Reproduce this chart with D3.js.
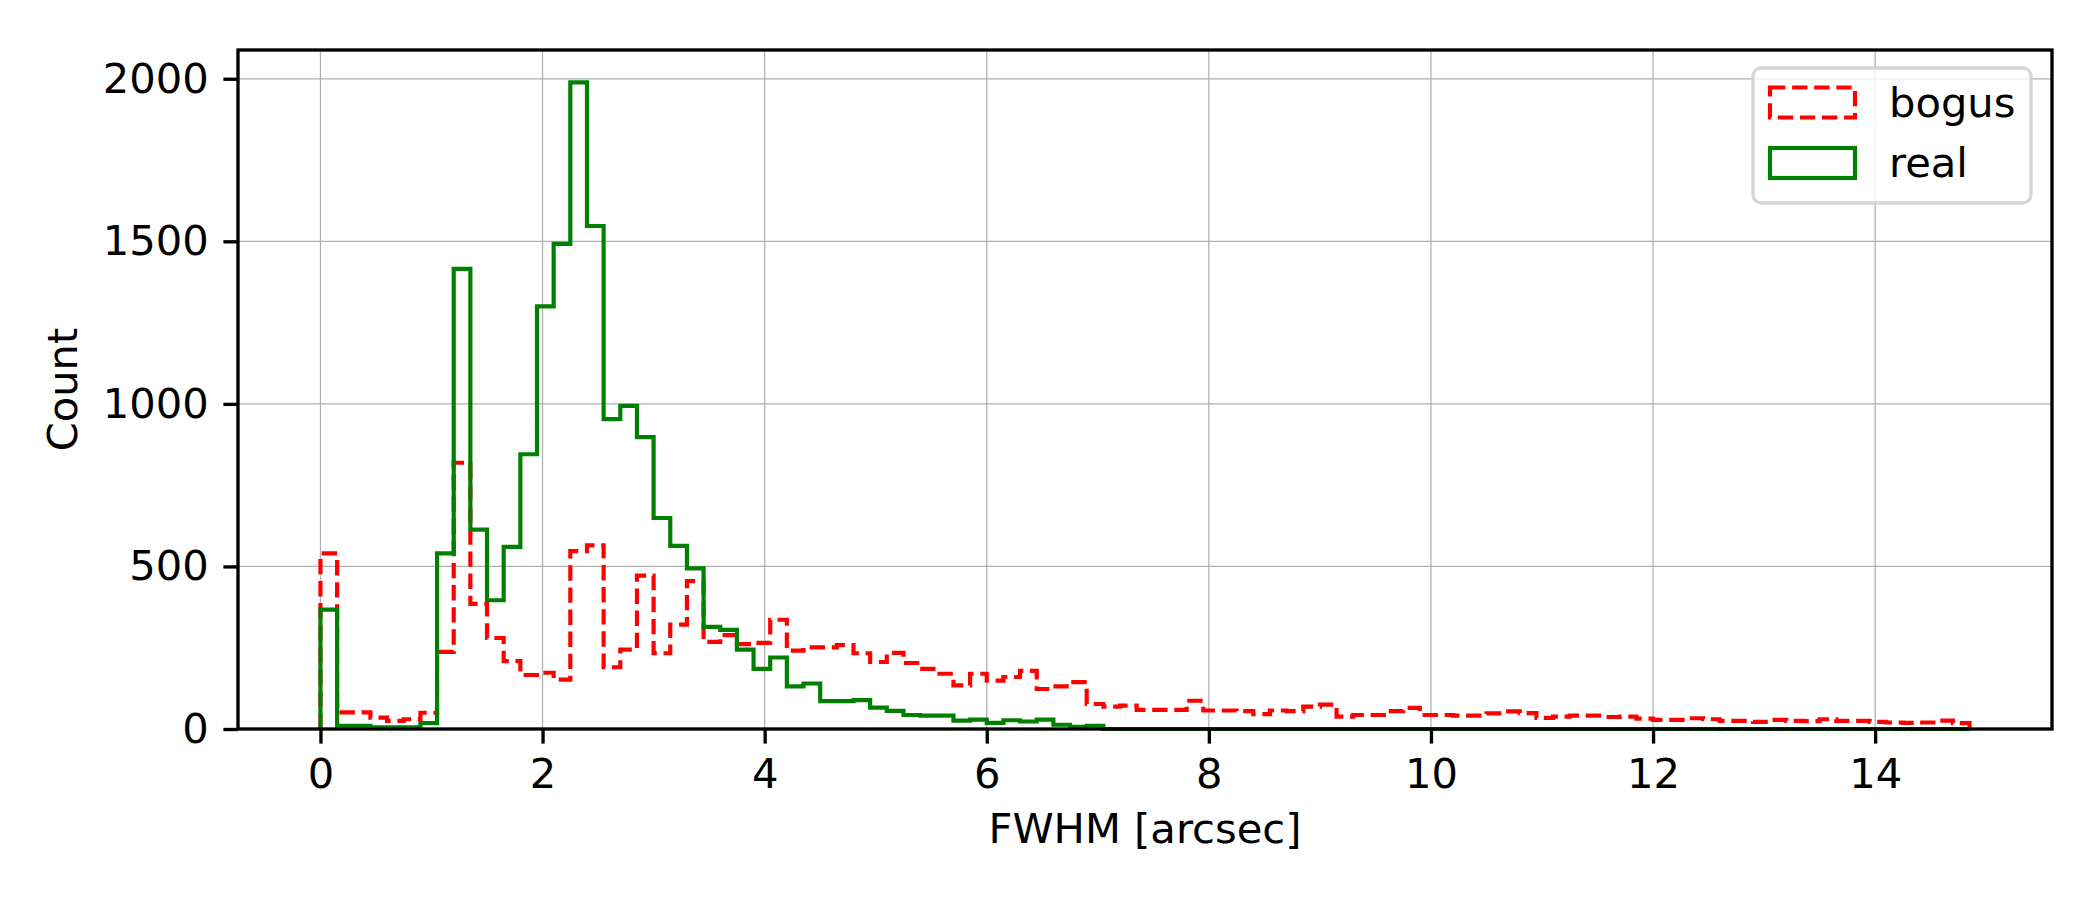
<!DOCTYPE html>
<html>
<head>
<meta charset="utf-8">
<script src="https://cdn.jsdelivr.net/npm/d3@7"></script>
<style>
    body{margin:0;background:#fff;}
    svg text{font-family:"DejaVu Sans",sans-serif;fill:#000;}
</style>
</head>
<body>
<div id="chart"></div>
<script>
//histogram bins, FWHM in arcsec
const binStart=0;
const binWidth=0.15;
const seriesNames=[`bogus`,`real`];
const bogusCounts=[
    540,51,51,35,25,30,50,237,819,385,
    280,209,166,173,152,547,565,190,244,472,
    233,321,455,268,289,261,265,336,241,251,
    251,258,233,206,234,203,185,170,134,170,
    149,160,179,123,131,144,77,69,72,59,
    59,59,87,57,57,55,46,57,55,69,
    75,38,43,43,55,65,43,43,41,41,
    48,54,49,34,38,41,41,37,38,32,
    28,28,33,30,25,25,22,28,25,24,
    30,25,25,22,20,19,20,26,18
];
const realCounts=[
    367,10,10,5,5,5,18,540,1415,613,
    396,560,845,1300,1492,1989,1547,953,994,898,
    649,563,494,314,305,244,185,220,131,140,
    86,86,89,66,56,43,41,41,26,29,
    19,27,23,29,13,7,10,0,0,0,
    0,0,0,0,0,0,0,0,0,0,
    0,0,0,0,0,0,0,0,0,0,
    0,0,0,0,0,0,0,0,0,0,
    0,0,0,0,0,0,0,0,0,0,
    0,0,0,0,0,0,0,0,0
];
const xTicks=[0,2,4,6,8,10,12,14];
const yTicks=[0,500,1000,1500,2000];
const xLabel=`FWHM [arcsec]`;
const yLabel=`Count`;

let Setting={
    width:2100,
    height:900,
    margin:{left:238,right:48,top:50,bottom:171},
    font:41.67,
    color:{bogus:`red`,real:`green`},
    dash:{bogus:`15.4,6.7`,real:null},
    lineWidth:4.17,
    spineWidth:3.33,
    tickSize:14.6,
    gridColor:`#b0b0b0`
};

let Histogram={
    //empty svg with inner group
    generateGraph(format,container){
        let svg=d3.select(container).append(`svg`)
            .attr(`width`,format.width)
            .attr(`height`,format.height);
        let graph=svg.append(`g`)
            .attr(`transform`,`translate(${format.margin.left},${format.margin.top})`);
        return graph;
    },
    //step outline like matplotlib histtype=step
    formatStepData(counts){
        let pts=[{x:binStart,y:0}];
        counts.forEach((c,i)=>pts.push({x:binStart+i*binWidth,y:c}));
        let end=binStart+counts.length*binWidth;
        pts.push({x:end,y:counts[counts.length-1]});
        pts.push({x:end,y:0});
        return pts;
    },
    generateGrid(graph,x,y,width,height){
        let grid=graph.append(`g`).attr(`class`,`grid`);
        grid.selectAll(`.gx`).data(xTicks).enter().append(`line`)
            .attr(`x1`,d=>x(d)).attr(`x2`,d=>x(d))
            .attr(`y1`,0).attr(`y2`,height)
            .attr(`stroke`,Setting.gridColor).attr(`stroke-width`,1.25);
        grid.selectAll(`.gy`).data(yTicks).enter().append(`line`)
            .attr(`x1`,0).attr(`x2`,width)
            .attr(`y1`,d=>y(d)).attr(`y2`,d=>y(d))
            .attr(`stroke`,Setting.gridColor).attr(`stroke-width`,1.25);
    },
    generateStep(graph,counts,name,x,y){
        let line=d3.line()
            .x(d=>x(d.x))
            .y(d=>y(d.y))
            .curve(d3.curveStepAfter);
        graph.append(`path`)
            .datum(this.formatStepData(counts))
            .attr(`class`,`${name} step`)
            .attr(`fill`,`none`)
            .attr(`stroke`,Setting.color[name])
            .attr(`stroke-width`,Setting.lineWidth)
            .attr(`stroke-dasharray`,Setting.dash[name])
            .attr(`stroke-linejoin`,`miter`)
            .attr(`stroke-linecap`,`butt`)
            .attr(`d`,line);
    },
    generateAxes(graph,x,y,width,height){
        let xa=graph.append(`g`)
            .attr(`class`,`x axis`)
            .attr(`transform`,`translate(0,${height})`)
            .call(d3.axisBottom(x).tickValues(xTicks).tickSize(Setting.tickSize).tickPadding(Setting.tickSize).tickFormat(d3.format(`d`)));
        let ya=graph.append(`g`)
            .attr(`class`,`y axis`)
            .call(d3.axisLeft(y).tickValues(yTicks).tickSize(Setting.tickSize).tickPadding(Setting.tickSize).tickFormat(d3.format(`d`)));
        [xa,ya].forEach(a=>{
            a.select(`.domain`).remove();
            a.selectAll(`line`).attr(`stroke`,`#000`).attr(`stroke-width`,Setting.spineWidth);
            a.selectAll(`text`).attr(`font-size`,Setting.font).attr(`font-family`,`DejaVu Sans`);
        });

        graph.append(`rect`)
            .attr(`class`,`spines`)
            .attr(`x`,0).attr(`y`,0)
            .attr(`width`,width).attr(`height`,height)
            .attr(`fill`,`none`)
            .attr(`stroke`,`#000`)
            .attr(`stroke-width`,Setting.spineWidth);

        graph.append(`text`)
            .attr(`x`,width/2)
            .attr(`y`,793)
            .attr(`text-anchor`,`middle`)
            .attr(`font-size`,Setting.font)
            .text(xLabel);
        graph.append(`text`)
            .attr(`transform`,`translate(-161,${height/2}) rotate(-90)`)
            .attr(`text-anchor`,`middle`)
            .attr(`font-size`,Setting.font)
            .text(yLabel);
    },
    generateLegend(graph){
        let left=1753-Setting.margin.left,top=68-Setting.margin.top;
        let lg=graph.append(`g`).attr(`class`,`legend`);
        lg.append(`rect`)
            .attr(`x`,left).attr(`y`,top)
            .attr(`width`,278).attr(`height`,135)
            .attr(`rx`,8.3).attr(`ry`,8.3)
            .attr(`fill`,`#fff`).attr(`fill-opacity`,0.8)
            .attr(`stroke`,`#cccccc`).attr(`stroke-opacity`,0.8)
            .attr(`stroke-width`,Setting.spineWidth);
        seriesNames.forEach((name,i)=>{
            lg.append(`rect`)
                .attr(`x`,left+17).attr(`y`,top+19.5+i*60.5)
                .attr(`width`,85).attr(`height`,30)
                .attr(`fill`,`none`)
                .attr(`stroke`,Setting.color[name])
                .attr(`stroke-width`,Setting.lineWidth)
                .attr(`stroke-dasharray`,Setting.dash[name]);
            lg.append(`text`)
                .attr(`x`,left+136).attr(`y`,top+49+i*60)
                .attr(`font-size`,Setting.font)
                .text(name);
        });
    }
};

let format=Setting;
let width=format.width-format.margin.left-format.margin.right;
let height=format.height-format.margin.top-format.margin.bottom;
let graph=Histogram.generateGraph(format,`#chart`);

let lo=binStart,hi=binStart+binWidth*bogusCounts.length;
let pad=0.05*(hi-lo);
let x=d3.scaleLinear().domain([lo-pad,hi+pad]).range([0,width]);
let maxCount=d3.max(bogusCounts.concat(realCounts));
let y=d3.scaleLinear().domain([0,maxCount*1.05]).range([height,0]);

Histogram.generateGrid(graph,x,y,width,height);
//bogus first, real drawn over it
Histogram.generateStep(graph,bogusCounts,`bogus`,x,y);
Histogram.generateStep(graph,realCounts,`real`,x,y);
Histogram.generateAxes(graph,x,y,width,height);
Histogram.generateLegend(graph);
</script>
</body>
</html>
